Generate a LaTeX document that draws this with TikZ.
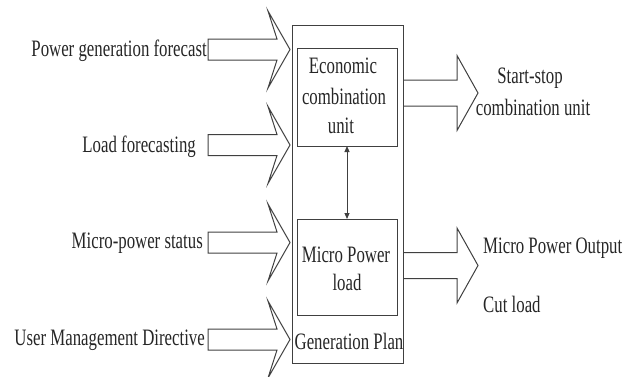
\documentclass[tikz,border=0pt]{standalone}
\usepackage{fontspec}
\usepackage{graphicx}
\setmainfont{Liberation Serif}
\usetikzlibrary{arrows.meta}
\newcommand\tx[1]{\scalebox{1}[1.4]{#1}}
\newcommand\inarrow[1]{\draw[blk] (208,{#1-10.5}) -- (277,{#1-10.5}) -- (268,{#1-38.5}) -- (290,#1) -- (268,{#1+38.5}) -- (277,{#1+10.5}) -- (208,{#1+10.5}) -- cycle;}
\newcommand\outarrow[1]{\draw[blk] (403,{#1-13}) -- (457,{#1-13}) -- (457,{#1-37.5}) -- (478,#1) -- (457,{#1+37.5}) -- (457,{#1+13}) -- (403,{#1+13});}
\begin{document}
\begin{tikzpicture}[x=1pt,y=-1pt,
  blk/.style={draw=black!75,line width=1pt,line join=miter},
  boxn/.style={draw=black!75,line width=1pt,inner sep=0pt,outer sep=0pt},
  lbl/.style={inner sep=0pt,font=\fontsize{16.8}{20}\selectfont,text=black!85}]
\useasboundingbox (0,0) rectangle (632,376);
\node[boxn,minimum width=111pt,minimum height=338pt] (plan) at (347.5,194) {};
\node[boxn,minimum width=100pt,minimum height=98pt] (econ) at (347,97) {};
\node[boxn,minimum width=100pt,minimum height=96pt] (micro) at (347,267) {};
\draw[black!75,line width=1pt,{Triangle[length=6pt,width=5pt]}-{Triangle[length=6pt,width=5pt]}] (econ.south) -- (micro.north);
% input arrows
\inarrow{49.5}
\inarrow{145}
\inarrow{242.5}
\inarrow{339.5}
% output arrows
\outarrow{93}
\outarrow{265.5}
% labels
\node[lbl,anchor=base east] (t1) at (207,56) {\tx{Power generation forecast}};
\node[lbl,anchor=base east] (t2) at (196,152) {\tx{Load forecasting}};
\node[lbl,anchor=base east] (t3) at (203,248) {\tx{Micro-power status}};
\node[lbl,anchor=base east] (t4) at (205,345) {\tx{User Management Directive}};
\node[lbl,anchor=base] (e1) at (343,73) {\tx{Economic}};
\node[lbl,anchor=base] (e2) at (344,104) {\tx{combination}};
\node[lbl,anchor=base] (e3) at (341,133) {\tx{unit}};
\node[lbl,anchor=base] (m1) at (346,262) {\tx{Micro Power}};
\node[lbl,anchor=base] (m2) at (347,290) {\tx{load}};
\node[lbl,anchor=base] (g1) at (349,349) {\tx{Generation Plan}};
\node[lbl,anchor=base] (s1) at (530,83) {\tx{Start-stop}};
\node[lbl,anchor=base] (s2) at (533,115) {\tx{combination unit}};
\node[lbl,anchor=base west] (o1) at (483,253) {\tx{Micro Power Output}};
\node[lbl,anchor=base west] (o2) at (483,312) {\tx{Cut load}};
\end{tikzpicture}
\end{document}
